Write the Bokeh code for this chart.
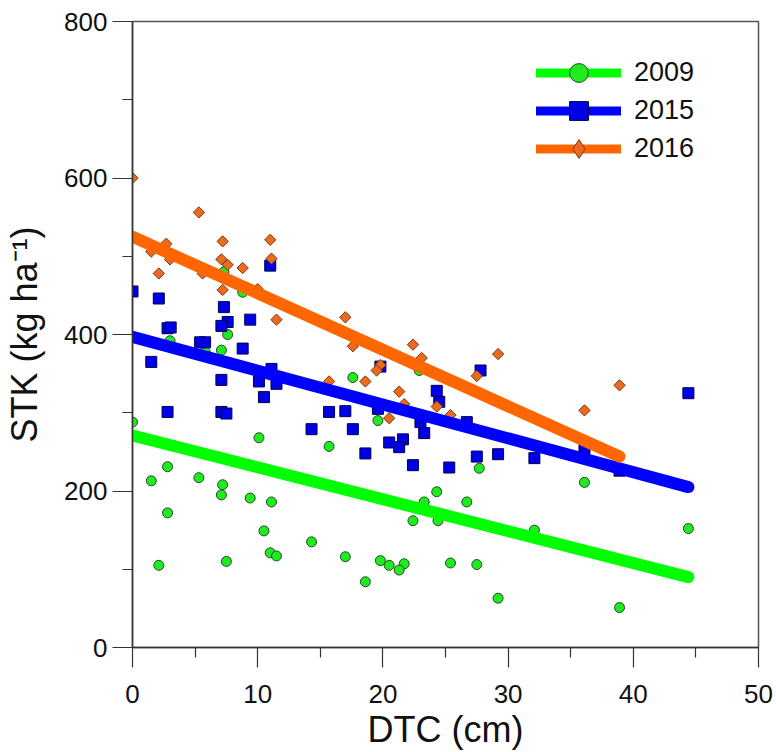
from bokeh.plotting import figure
from bokeh.models import Range1d, Legend, LegendItem, FixedTicker
from bokeh.embed import file_html
from bokeh.resources import INLINE

# ---------------- data ----------------
x_2009 = [0.0, 10.1, 2.8, 1.5, 5.3, 7.2, 7.1, 9.4, 11.1, 2.8, 10.5, 11.0, 11.5, 2.1, 7.5,
          7.3, 8.8, 7.6, 3.0, 7.1, 5.8, 17.6, 19.6, 22.9, 15.7, 24.3, 23.3, 26.7, 22.4,
          24.4, 27.7, 14.3, 17.0, 19.8, 20.5, 21.7, 21.3, 18.6, 25.4, 27.5, 36.1, 32.1,
          44.4, 29.2, 38.9]
y_2009 = [288, 268, 231, 213, 217, 208, 195, 191, 186, 172, 149, 121, 117, 105, 110,
          480, 454, 400, 392, 380, 378, 345, 290, 354, 257, 199, 186, 186, 162,
          162, 229, 135, 116, 111, 105, 107, 99, 84, 108, 106, 211, 150,
          152, 63, 51]

x_2015 = [0.0, 2.1, 11.0, 7.3, 9.4, 7.6, 7.1, 2.8, 3.05, 5.4, 5.8, 8.8, 1.5, 7.1, 10.1,
          11.1, 11.5, 10.5, 2.8, 7.1, 7.5, 19.8, 24.3, 24.5, 15.7, 17.0, 19.6, 14.3,
          17.6, 23.0, 23.3, 20.5, 21.6, 21.3, 18.6, 22.4, 25.3, 26.7, 27.8, 27.5, 29.2,
          32.1, 36.1, 38.9, 44.4]
y_2015 = [455, 446, 488, 435, 419, 416, 411, 408, 409, 390, 390, 382, 365, 342, 340,
          356, 337, 320, 301, 301, 299, 359, 328, 314, 301, 302, 305, 279,
          279, 288, 274, 262, 266, 256, 248, 233, 230, 288, 354, 244, 247,
          242, 254, 226, 325]

x_2016 = [0.0, 5.3, 2.7, 1.5, 3.0, 2.1, 7.2, 11.0, 11.1, 7.1, 7.6, 8.8, 7.2, 10.0, 11.5,
          5.6, 17.0, 17.6, 22.4, 23.1, 19.8, 19.5, 15.7, 18.6, 21.3, 21.7, 24.3, 25.4,
          20.5, 27.5, 29.2, 38.9, 36.1]
y_2016 = [600, 556, 516, 506, 496, 478, 519, 521, 497, 496, 489, 485, 457, 458, 419,
          478, 422, 385, 387, 370, 361, 354, 340, 340, 327, 311, 308, 297,
          293, 347, 375, 335, 303]

# regression lines (end points)
fit_x_2009 = [0.0, 44.4]
fit_y_2009 = [271, 90]
fit_x_2015 = [0.0, 44.4]
fit_y_2015 = [397, 205]
fit_x_2016 = [0.0, 38.9]
fit_y_2016 = [525, 244]

series_labels = ["2009", "2015", "2016"]

x_major = [0, 10, 20, 30, 40, 50]
x_minor = [5, 15, 25, 35, 45]
y_major = [0, 200, 400, 600, 800]
y_minor = [100, 300, 500, 700]

# ---------------- styling ----------------
FONT = "Liberation Sans"
GREEN_LINE, GREEN_FILL, GREEN_EDGE = "#00ff00", "#22ea22", "#1d4f1d"
BLUE_LINE, BLUE_FILL, BLUE_EDGE = "#0000ff", "#0000e6", "#000050"
ORANGE_LINE, ORANGE_FILL, ORANGE_EDGE = "#ff6600", "#ec6a1e", "#7a3b12"

p = figure(width=776, height=752, x_range=Range1d(0, 50), y_range=Range1d(0, 800),
           output_backend="svg", toolbar_location=None,
           min_border_left=132, min_border_right=18, min_border_top=21, min_border_bottom=104)

p.xgrid.visible = False
p.ygrid.visible = False
p.outline_line_color = "#555555"
p.outline_line_width = 1.5
p.background_fill_color = "white"
p.border_fill_color = "white"

p.xaxis.ticker = FixedTicker(ticks=x_major, minor_ticks=x_minor)
p.yaxis.ticker = FixedTicker(ticks=y_major, minor_ticks=y_minor)

for ax in (p.xaxis[0], p.yaxis[0]):
    ax.axis_line_color = "#333333"
    ax.axis_line_width = 1.5
    ax.major_tick_line_color = "#333333"
    ax.minor_tick_line_color = "#333333"
    ax.major_tick_line_width = 1.2
    ax.minor_tick_line_width = 1.2
    ax.major_tick_in = 0
    ax.minor_tick_in = 0
    ax.major_tick_out = 20
    ax.minor_tick_out = 10
    ax.major_label_text_font = FONT
    ax.major_label_text_font_size = "26px"
    ax.major_label_text_color = "#111111"
    ax.axis_label_text_font = FONT
    ax.axis_label_text_font_size = "36px"
    ax.axis_label_text_font_style = "normal"
    ax.axis_label_text_color = "#111111"

p.xaxis.axis_label = "DTC (cm)"
p.yaxis.axis_label = "STK (kg ha\u207b\u00b9)"
p.xaxis.major_label_standoff = 17
p.xaxis.axis_label_standoff = 3
p.yaxis.major_label_standoff = 5
p.yaxis.axis_label_standoff = 16

# scatter points
p.scatter(x_2009, y_2009, marker="circle", size=10, fill_color=GREEN_FILL,
          line_color=GREEN_EDGE, line_width=1)
p.scatter(x_2015, y_2015, marker="square", size=11, fill_color=BLUE_FILL,
          line_color=BLUE_EDGE, line_width=1)
p.scatter(x_2016, y_2016, marker="square", angle=0.785398, size=8, fill_color=ORANGE_FILL,
          line_color=ORANGE_EDGE, line_width=1)

# fitted lines
p.line(fit_x_2009, fit_y_2009, line_width=12, line_color=GREEN_LINE, line_cap="round")
p.line(fit_x_2015, fit_y_2015, line_width=12, line_color=BLUE_LINE, line_cap="round")
p.line(fit_x_2016, fit_y_2016, line_width=12, line_color=ORANGE_LINE, line_cap="round")

# legend-only renderers (hidden in the plot, drawn in the legend)
leg_specs = [(fit_x_2009, fit_y_2009, x_2009, y_2009, GREEN_LINE, "circle", GREEN_FILL, GREEN_EDGE),
             (fit_x_2015, fit_y_2015, x_2015, y_2015, BLUE_LINE, "square", BLUE_FILL, BLUE_EDGE),
             (fit_x_2016, fit_y_2016, x_2016, y_2016, ORANGE_LINE, "diamond", ORANGE_FILL, ORANGE_EDGE)]
leg_locs = [(404, 551), (404, 513), (404, 475)]
for lab, spec, loc in zip(series_labels, leg_specs, leg_locs):
    fx, fy, sx, sy, lc, mk, fc, ec = spec
    lr = p.line(fx, fy, line_width=9, line_color=lc, line_cap="round", visible=False)
    sr = p.scatter(sx, sy, marker=mk, fill_color=fc, line_color=ec, line_width=1, visible=False)
    lg = Legend(items=[LegendItem(label=lab, renderers=[lr, sr])], location=loc,
                padding=0, margin=0, spacing=0,
                glyph_height=47, glyph_width=85, label_standoff=13,
                label_text_font=FONT, label_text_font_size="27px",
                label_text_color="#111111",
                border_line_alpha=0, background_fill_alpha=0)
    p.add_layout(lg)

open("out.html", "w").write(file_html(p, INLINE))
